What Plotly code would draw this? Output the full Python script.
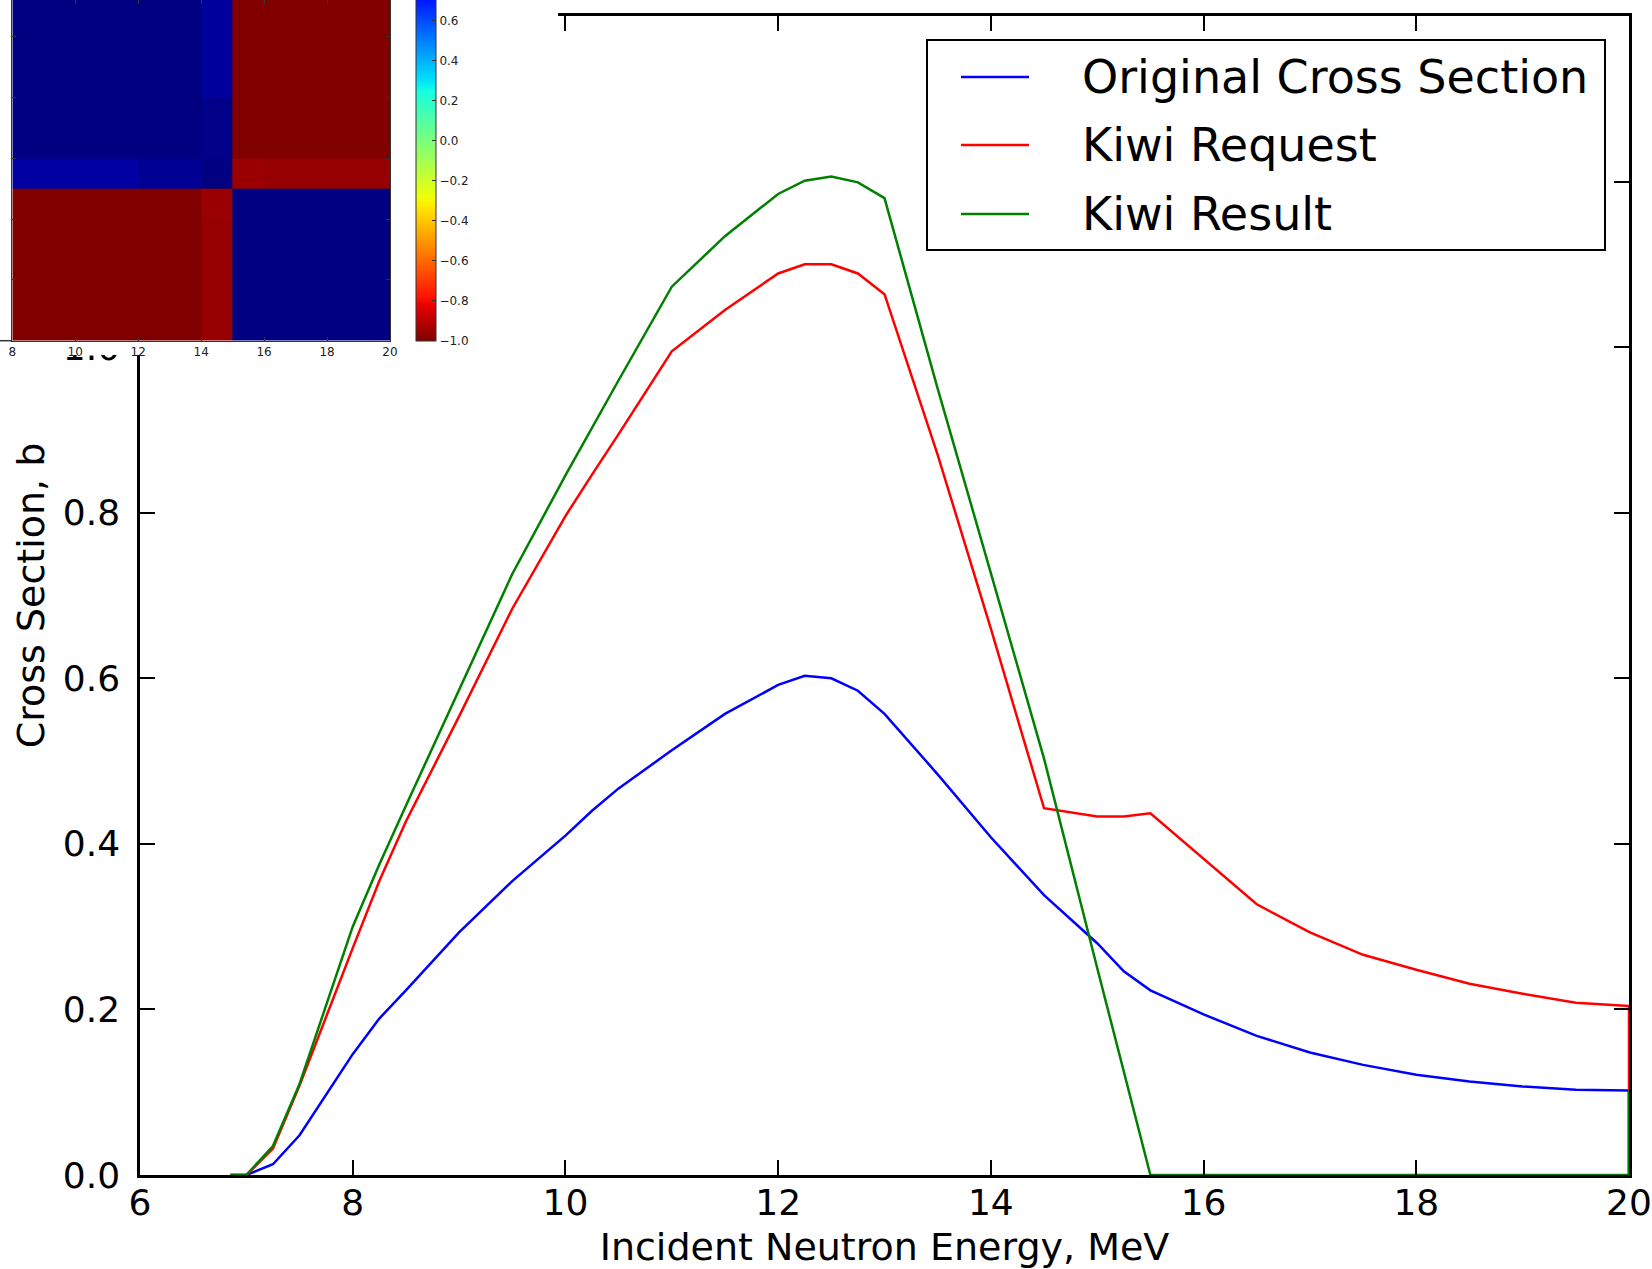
import plotly.graph_objects as go

# ---------------- data ----------------
energy = [6.85, 7.0, 7.25, 7.5, 8.0, 8.25, 8.5, 9.0, 9.5, 10.0, 10.25, 10.5, 11.0, 11.5,
          12.0, 12.25, 12.5, 12.75, 13.0, 13.5, 14.0, 14.5, 15.0, 15.25, 15.5, 16.0,
          16.5, 17.0, 17.5, 18.0, 18.5, 19.0, 19.5, 20.0, 20.0]

original_xs = [0.0, 0.0, 0.013, 0.048, 0.146, 0.189, 0.223, 0.293, 0.355, 0.410, 0.440,
               0.467, 0.513, 0.557, 0.592, 0.603, 0.600, 0.585, 0.557, 0.484, 0.408,
               0.338, 0.280, 0.246, 0.223, 0.194, 0.168, 0.148, 0.133, 0.121, 0.113,
               0.107, 0.103, 0.102, 0.0]

kiwi_request = [0.0, 0.0, 0.032, 0.108, 0.274, 0.355, 0.427, 0.554, 0.684, 0.796, 0.846,
                0.895, 0.995, 1.045, 1.089, 1.100, 1.100, 1.089, 1.064, 0.870, 0.660,
                0.443, 0.433, 0.433, 0.437, 0.382, 0.327, 0.293, 0.266, 0.248, 0.231,
                0.219, 0.208, 0.204, 0.0]

kiwi_result = [0.0, 0.0, 0.035, 0.110, 0.300, 0.375, 0.446, 0.586, 0.726, 0.845, 0.903,
               0.960, 1.073, 1.134, 1.185, 1.201, 1.206, 1.199, 1.180, 0.950, 0.727,
               0.503, 0.250, 0.125, 0.0, 0.0, 0.0, 0.0, 0.0, 0.0, 0.0,
               0.0, 0.0, 0.0, 0.102]

series_names = ["Original Cross Section", "Kiwi Request", "Kiwi Result"]
series_colors = ["#0000ff", "#ff0000", "#008000"]

# inset: correlation matrix (energy group edges, MeV)
corr_edges = [8, 12, 14, 15, 16, 20]
corr_matrix = [
    [1.000, 1.000, 0.950, -1.000, -1.000],
    [1.000, 1.000, 0.985, -1.000, -1.000],
    [0.940, 0.965, 1.000, -0.955, -0.960],
    [-1.000, -1.000, -0.955, 1.000, 1.000],
    [-1.000, -1.000, -0.960, 1.000, 1.000],
]

x_ticks = [6, 8, 10, 12, 14, 16, 18, 20]
y_ticks = [0.0, 0.2, 0.4, 0.6, 0.8, 1.0, 1.2, 1.4]
inset_ticks = [8, 10, 12, 14, 16, 18, 20]
cbar_ticks = [-1.0, -0.8, -0.6, -0.4, -0.2, 0.0, 0.2, 0.4, 0.6, 0.8, 1.0]

# ---------------- layout geometry (pixels) ----------------
W, H = 1652, 1269
PL, PR, PT, PB = 140, 1629, 16, 1175          # main plot area
IL, IR, IB = 12.3, 390, 340.7                 # inset heatmap
MASK_R, MASK_B = 558, 355                     # white area behind inset
FONT = "DejaVu Sans"


def fx(p):
    return p / W


def fy(p):
    return 1 - p / H


# matplotlib 'jet' reversed
jet_r = {
    "r": [(0, 0), (0.35, 0), (0.66, 1), (0.89, 1), (1, 0.5)],
    "g": [(0, 0), (0.125, 0), (0.375, 1), (0.64, 1), (0.91, 0), (1, 0)],
    "b": [(0, 0.5), (0.11, 1), (0.34, 1), (0.65, 0), (1, 0)],
}


def interp(pts, t):
    for (a, va), (b, vb) in zip(pts[:-1], pts[1:]):
        if a <= t <= b:
            return va if b == a else va + (vb - va) * (t - a) / (b - a)
    return pts[-1][1]


stops = sorted({p for ch in jet_r.values() for p, _ in ch})
colorscale = []
for p in sorted({1 - s for s in stops}):
    t = 1 - p
    r, g, b = (interp(jet_r[c], t) for c in "rgb")
    colorscale.append([round(p, 4), f"rgb({round(r*255)},{round(g*255)},{round(b*255)})"])

fig = go.Figure()

# main curves
for vals, name, col in zip([original_xs, kiwi_request, kiwi_result], series_names, series_colors):
    fig.add_trace(go.Scatter(x=energy, y=vals, mode="lines", name=name,
                             line=dict(color=col, width=2.5), showlegend=False,
                             xaxis="x", yaxis="y"))

# white mask behind the inset
fig.add_trace(go.Scatter(x=[0, 1, 1, 0, 0], y=[0, 0, 1, 1, 0], mode="lines", fill="toself",
                         fillcolor="white", line=dict(width=0, color="white"),
                         showlegend=False, hoverinfo="skip", xaxis="x2", yaxis="y2"))

# inset heatmap
fig.add_trace(go.Heatmap(
    x=corr_edges, y=corr_edges, z=corr_matrix, xaxis="x3", yaxis="y3",
    colorscale=colorscale, zmin=-1, zmax=1, hoverinfo="skip",
    colorbar=dict(
        x=fx(416), xanchor="left", xpad=0, ypad=0,
        thickness=20, thicknessmode="pixels",
        y=fy(IB), yanchor="bottom", len=400 / H, lenmode="fraction",
        outlinewidth=1, outlinecolor="#333",
        tickvals=cbar_ticks, ticktext=[f"{v:.1f}".replace("-", "\u2212") for v in cbar_ticks],
        ticks="inside", ticklen=4, tickcolor="#333",
        tickfont=dict(family=FONT, size=12, color="#222"),
    ),
))

axis_common = dict(showgrid=False, zeroline=False, showline=True, linecolor="black",
                   linewidth=2.5, mirror="ticks", ticks="inside", ticklen=15,
                   tickwidth=1.5, tickcolor="black",
                   tickfont=dict(family=FONT, size=36, color="black"))

fig.update_layout(
    width=W, height=H, template="none",
    margin=dict(l=0, r=0, t=0, b=0, pad=0, autoexpand=False),
    paper_bgcolor="white", plot_bgcolor="white",
    font=dict(family=FONT, color="black"),
    showlegend=False,
    xaxis=dict(domain=[fx(PL), fx(PR)], range=[6, 20], tickvals=x_ticks, anchor="y",
               ticklabelstandoff=-6,
               title=dict(text="Incident Neutron Energy, MeV",
                          font=dict(family=FONT, size=38, color="black"), standoff=20),
               **axis_common),
    yaxis=dict(domain=[fy(PB), fy(PT)], range=[0, 1.4], tickvals=y_ticks, tickformat=".1f",
               anchor="x", ticklabelstandoff=10,
               title=dict(text="Cross Section, b",
                          font=dict(family=FONT, size=38, color="black"), standoff=7),
               **axis_common),
    xaxis2=dict(domain=[0, fx(MASK_R)], range=[0, 1], visible=False, anchor="y2"),
    yaxis2=dict(domain=[fy(MASK_B), 1], range=[0, 1], visible=False, anchor="x2"),
    xaxis3=dict(domain=[fx(IL), fx(IR)], range=[8, 20], tickvals=inset_ticks, anchor="y3",
                showgrid=False, zeroline=False, showline=True, linecolor="#333", linewidth=1,
                mirror="ticks", ticks="inside", ticklen=4, tickcolor="#333",
                tickfont=dict(family=FONT, size=12, color="#222")),
    yaxis3=dict(domain=[fy(IB), 1], range=[20, 8.8], tickvals=inset_ticks, anchor="x3",
                showgrid=False, zeroline=False, showline=True, linecolor="#333", linewidth=1,
                mirror="ticks", ticks="inside", ticklen=4, tickcolor="#333",
                showticklabels=False),
)

# small stub of the inset frame at its lower-left corner
fig.add_shape(type="line", xref="paper", yref="paper", x0=0, x1=fx(IL),
              y0=fy(IB), y1=fy(IB), line=dict(color="#333", width=1.5), layer="above")

# legend (drawn box, sample lines and labels)
LG_L, LG_R, LG_T, LG_B = 927, 1605, 40, 250
row_y = [77, 145, 214]
fig.add_shape(type="rect", xref="paper", yref="paper", x0=fx(LG_L), x1=fx(LG_R),
              y0=fy(LG_B), y1=fy(LG_T), line=dict(color="black", width=2),
              fillcolor="white", layer="above")
for name, col, ry in zip(series_names, series_colors, row_y):
    fig.add_shape(type="line", xref="paper", yref="paper", x0=fx(961), x1=fx(1029),
                  y0=fy(ry), y1=fy(ry), line=dict(color=col, width=2.5), layer="above")
    fig.add_annotation(xref="paper", yref="paper", x=fx(1080), y=fy(ry), text=name,
                       showarrow=False, xanchor="left", yanchor="middle",
                       font=dict(family=FONT, size=46, color="black"))

fig.write_html("out.html")
